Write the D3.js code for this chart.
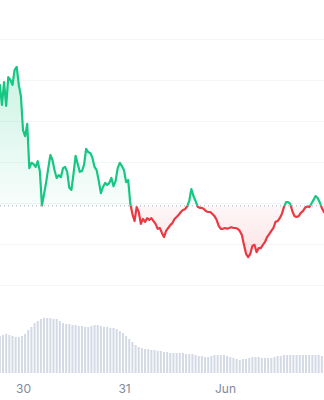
<!DOCTYPE html>
<html>
<head>
<meta charset="utf-8">
<script src="https://cdn.jsdelivr.net/npm/d3@7"></script>
<style>
  html, body { margin: 0; padding: 0; background: #fff; }
  #chart { width: 324px; height: 400px; }
</style>
</head>
<body>
<div id="chart"></div>
<script>
// price every 30 minutes, starting May 29 18:30
const priceStart = new Date(2024, 4, 29, 18, 30);
const prices = [
  98.8, 93.9, 99.5, 93.7, 100.7, 100.0, 98.8, 102.4, 103.2, 98.8,
  96.1, 87.8, 86.3, 89.3, 78.5, 79.8, 79.5, 78.8, 80.2, 77.8,
  69.4, 72.2, 75.1, 78.5, 81.7, 80.5, 78.0, 76.1, 76.8, 76.3,
  78.5, 78.8, 77.6, 73.7, 73.2, 77.1, 81.5, 79.5, 77.6, 77.8,
  79.3, 83.2, 82.4, 82.2, 81.0, 78.8, 78.0, 75.4, 72.4, 73.9,
  74.9, 74.4, 74.9, 76.1, 74.1, 75.4, 78.5, 79.8, 79.0, 78.0,
  75.1, 75.6, 69.8, 67.3, 65.6, 69.0, 67.8, 64.9, 66.1, 65.4,
  66.3, 65.9, 66.3, 65.6, 64.9, 63.7, 63.9, 62.7, 61.7, 63.2,
  63.9, 64.6, 65.1, 66.1, 66.6, 67.1, 67.8, 68.3, 68.5, 69.2,
  70.5, 73.4, 71.7, 70.5, 69.1, 68.8, 68.8, 68.5, 68.0, 67.8,
  67.8, 67.3, 66.8, 65.9, 64.4, 63.7, 63.7, 63.9, 63.7, 63.9,
  64.1, 63.9, 63.9, 63.7, 63.2, 62.2, 59.8, 57.6, 56.8, 57.6,
  59.5, 59.8, 58.0, 59.0, 59.0, 59.8, 60.5, 61.7, 62.4, 63.2,
  63.9, 65.4, 65.6, 66.3, 67.3, 69.0, 70.2, 70.2, 69.8, 68.0,
  66.8, 66.6, 66.8, 67.6, 68.0, 68.8, 69.2, 69.0, 69.8, 70.7,
  71.7, 71.2, 70.2, 68.8, 67.8
];
const basePrice = 69.3;

// volume (millions) every 45 minutes, same start
const volumes = [
  37, 38, 39, 38, 37, 36, 36, 37, 39, 43,
  46, 50, 52, 54, 55, 55, 55, 54, 54, 52,
  50, 49, 49, 48, 48, 47, 47, 46, 46, 47,
  48, 48, 47, 46, 46, 45, 45, 44, 42, 40,
  37, 34, 31, 28, 26, 25, 24, 24, 23, 23,
  22, 22, 21, 21, 20, 20, 20, 20, 20, 19,
  19, 19, 18, 17, 17, 16, 16, 17, 18, 18,
  18, 18, 17, 16, 15, 14, 13, 14, 14, 15,
  16, 16, 16, 15, 15, 15, 15, 16, 17, 17,
  18, 18, 18, 18, 18, 18, 18, 18, 18, 18,
  18, 18, 17
];

const priceTicks = [50, 60, 70, 80, 90, 100, 110];
const dayTicks = [new Date(2024, 4, 30), new Date(2024, 4, 31), new Date(2024, 5, 1)];
const timeDomain = [new Date(2024, 4, 29, 18, 32), new Date(2024, 5, 1, 23, 31)];

const width = 324;
const height = 400;
const green = "#16c784";
const red = "#ea3943";

const priceData = prices.map((p, i) => ({ date: d3.timeMinute.offset(priceStart, 30 * i), value: p }));
const volumeData = volumes.map((v, i) => ({ date: d3.timeMinute.offset(priceStart, 45 * i), value: v }));

const svg = d3.select("#chart")
  .append("svg")
  .attr("width", width)
  .attr("height", height)
  .attr("viewBox", [0, 0, width, height])
  .style("font-family", "Inter, 'Noto Sans', sans-serif");

const x = d3.scaleTime().domain(timeDomain).range([0, width]);
const y = d3.scaleLinear().domain([50, 110]).range([285, 39]);
const yVol = d3.scaleLinear().domain([0, 80]).range([373, 293]);

const baseY = y(basePrice);

// grid lines
svg.append("g")
  .attr("class", "grid")
  .call(d3.axisRight(y).tickValues(priceTicks).tickSize(width).tickFormat(""))
  .call(g => g.select(".domain").remove())
  .call(g => g.selectAll("line").attr("stroke", "#f4f5f7").attr("stroke-width", 1));

// volume bars
svg.append("g")
  .selectAll("rect")
  .data(volumeData)
  .join("rect")
  .attr("x", d => x(d.date) - 1)
  .attr("y", d => yVol(d.value))
  .attr("width", 2)
  .attr("height", d => yVol(0) - yVol(d.value))
  .attr("fill", "#d3d9e5");

// clips and gradients
const defs = svg.append("defs");
defs.append("clipPath").attr("id", "clipUp")
  .append("rect").attr("x", 0).attr("y", 0).attr("width", width).attr("height", baseY);
defs.append("clipPath").attr("id", "clipDown")
  .append("rect").attr("x", 0).attr("y", baseY).attr("width", width).attr("height", height - baseY);

const gUp = defs.append("linearGradient").attr("id", "gradUp")
  .attr("gradientUnits", "userSpaceOnUse")
  .attr("x1", 0).attr("x2", 0)
  .attr("y1", y(d3.max(prices))).attr("y2", baseY);
gUp.append("stop").attr("offset", 0).attr("stop-color", green).attr("stop-opacity", 0.22);
gUp.append("stop").attr("offset", 1).attr("stop-color", green).attr("stop-opacity", 0.03);

const gDown = defs.append("linearGradient").attr("id", "gradDown")
  .attr("gradientUnits", "userSpaceOnUse")
  .attr("x1", 0).attr("x2", 0)
  .attr("y1", baseY).attr("y2", y(d3.min(prices)));
gDown.append("stop").attr("offset", 0).attr("stop-color", red).attr("stop-opacity", 0.04);
gDown.append("stop").attr("offset", 1).attr("stop-color", red).attr("stop-opacity", 0.14);

const area = d3.area()
  .x(d => x(d.date))
  .y0(baseY)
  .y1(d => y(d.value));

const line = d3.line()
  .x(d => x(d.date))
  .y(d => y(d.value));

svg.append("path").datum(priceData)
  .attr("d", area).attr("fill", "url(#gradUp)").attr("clip-path", "url(#clipUp)");
svg.append("path").datum(priceData)
  .attr("d", area).attr("fill", "url(#gradDown)").attr("clip-path", "url(#clipDown)");

// baseline
svg.append("line")
  .attr("x1", 0).attr("x2", width)
  .attr("y1", baseY).attr("y2", baseY)
  .attr("stroke", "#a6b0c3")
  .attr("stroke-width", 1)
  .attr("stroke-dasharray", "1,3");

svg.append("path").datum(priceData)
  .attr("d", line).attr("fill", "none")
  .attr("stroke", green).attr("stroke-width", 2.2)
  .attr("stroke-linejoin", "round").attr("stroke-linecap", "round")
  .attr("clip-path", "url(#clipUp)");
svg.append("path").datum(priceData)
  .attr("d", line).attr("fill", "none")
  .attr("stroke", red).attr("stroke-width", 2.2)
  .attr("stroke-linejoin", "round").attr("stroke-linecap", "round")
  .attr("clip-path", "url(#clipDown)");

// x axis labels
const fmtDay = d3.timeFormat("%-d");
const fmtMonth = d3.timeFormat("%b");
svg.append("g")
  .attr("transform", "translate(0, 380)")
  .call(d3.axisBottom(x)
    .tickValues(dayTicks)
    .tickSize(0)
    .tickPadding(4)
    .tickFormat(d => d.getDate() === 1 ? fmtMonth(d) : fmtDay(d)))
  .call(g => g.select(".domain").remove())
  .call(g => g.selectAll("text")
    .attr("fill", "#808a9d")
    .style("font-size", "12px")
    .style("font-family", "Inter, 'Noto Sans', sans-serif"));
</script>
</body>
</html>
